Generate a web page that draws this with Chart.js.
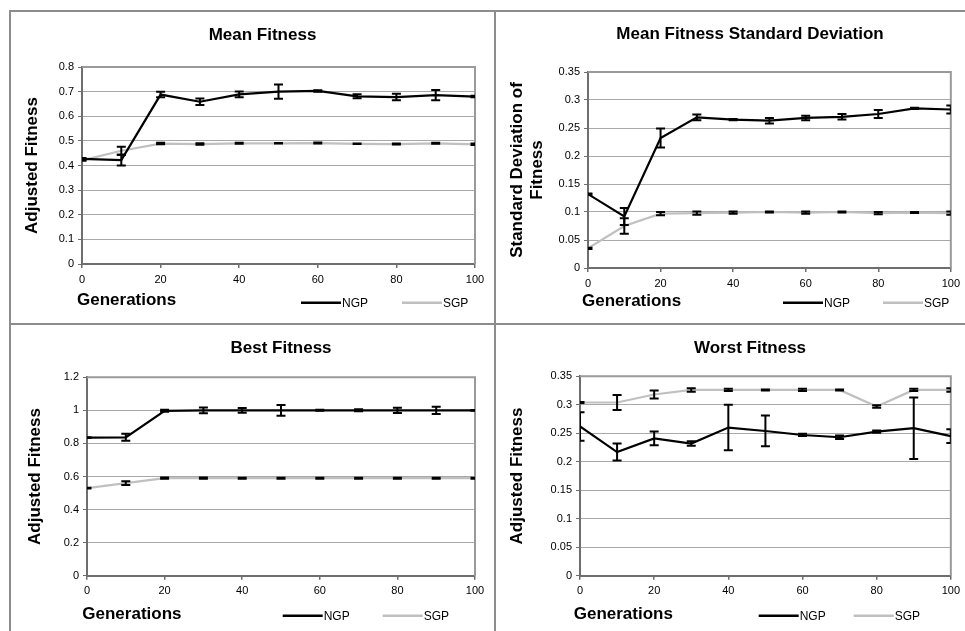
<!DOCTYPE html>
<html>
<head>
<meta charset="utf-8">
<title>NGP vs SGP fitness</title>
<script src="https://cdn.jsdelivr.net/npm/chart.js@4.4.1/dist/chart.umd.min.js"></script>
<style>
  body { margin: 0; background: #fff; }
  #page { position: relative; width: 965px; height: 631px; overflow: hidden; background: #fff; }
  .rule { position: absolute; background: #8c8c8c; }
  canvas { position: absolute; }
</style>
</head>
<body>
<div id="page">
  <div class="rule" style="left:9px;top:10px;width:956px;height:2px"></div>
  <div class="rule" style="left:9px;top:10px;width:2px;height:621px"></div>
  <div class="rule" style="left:494px;top:10px;width:2px;height:621px"></div>
  <div class="rule" style="left:9px;top:323px;width:956px;height:2px"></div>
  <canvas id="meanChart" width="484" height="313" style="left:10px;top:11px"></canvas>
  <canvas id="sdChart" width="470" height="313" style="left:495px;top:11px"></canvas>
  <canvas id="bestChart" width="484" height="306" style="left:10px;top:325px"></canvas>
  <canvas id="worstChart" width="470" height="306" style="left:495px;top:325px"></canvas>
</div>
<script>
// generations on the x axis
const generations = [0, 10, 20, 30, 40, 50, 60, 70, 80, 90, 100];
const xTicks = [0, 20, 40, 60, 80, 100];

// mean fitness
const meanNGP = [0.427, 0.422, 0.688, 0.659, 0.689, 0.700, 0.703, 0.681, 0.678, 0.686, 0.680];
const meanNGPErr = [0.003, 0.022, 0.011, 0.013, 0.012, 0.029, 0.003, 0.008, 0.013, 0.021, 0.003];
const meanSGP = [0.421, 0.460, 0.489, 0.487, 0.490, 0.490, 0.491, 0.488, 0.487, 0.490, 0.486];
const meanSGPErr = [0.002, 0.016, 0.003, 0.003, 0.002, 0.001, 0.002, 0.001, 0.002, 0.002, 0.003];
const meanYTicks = [0, 0.1, 0.2, 0.3, 0.4, 0.5, 0.6, 0.7, 0.8];

// standard deviation of fitness
const sdNGP = [0.132, 0.092, 0.232, 0.269, 0.265, 0.263, 0.268, 0.270, 0.275, 0.285, 0.283];
const sdNGPErr = [0.001, 0.015, 0.017, 0.005, 0.001, 0.005, 0.004, 0.005, 0.007, 0.001, 0.007];
const sdSGP = [0.035, 0.075, 0.097, 0.098, 0.099, 0.100, 0.099, 0.100, 0.098, 0.099, 0.098];
const sdSGPErr = [0.001, 0.014, 0.003, 0.003, 0.002, 0.001, 0.002, 0.001, 0.002, 0.001, 0.003];
const sdYTicks = [0, 0.05, 0.1, 0.15, 0.2, 0.25, 0.3, 0.35];

// best fitness
const bestNGP = [0.835, 0.837, 0.997, 1.0, 1.0, 1.0, 1.0, 1.0, 1.0, 1.0, 1.0];
const bestNGPErr = [0.002, 0.021, 0.006, 0.018, 0.015, 0.032, 0.003, 0.006, 0.016, 0.022, 0.002];
const bestSGP = [0.530, 0.560, 0.590, 0.590, 0.590, 0.590, 0.590, 0.590, 0.590, 0.590, 0.590];
const bestSGPErr = [0.002, 0.012, 0.004, 0.004, 0.003, 0.003, 0.003, 0.003, 0.003, 0.003, 0.003];
const bestYTicks = [0, 0.2, 0.4, 0.6, 0.8, 1, 1.2];

// worst fitness
const worstNGP = [0.262, 0.217, 0.241, 0.232, 0.260, 0.254, 0.247, 0.243, 0.253, 0.259, 0.245];
const worstNGPErr = [0.025, 0.015, 0.012, 0.004, 0.040, 0.027, 0.002, 0.003, 0.002, 0.054, 0.012];
const worstSGP = [0.304, 0.304, 0.318, 0.326, 0.326, 0.326, 0.326, 0.326, 0.297, 0.326, 0.326];
const worstSGPErr = [0.001, 0.013, 0.007, 0.003, 0.002, 0.001, 0.002, 0.001, 0.002, 0.002, 0.003];
const worstYTicks = [0, 0.05, 0.1, 0.15, 0.2, 0.25, 0.3, 0.35];

Chart.defaults.font.family = '"Liberation Sans", Arial, sans-serif';
Chart.defaults.color = '#000';

// error bars: +/- errors[i] around each point, clipped to the plot area
const errorBars = {
    id: 'errorBars',
    afterDatasetsDraw(chart) {
        const { ctx, chartArea, scales } = chart;
        ctx.save();
        ctx.beginPath();
        ctx.rect(chartArea.left, chartArea.top, chartArea.width, chartArea.height);
        ctx.clip();
        ctx.strokeStyle = '#000';
        ctx.lineWidth = 2;
        chart.data.datasets.forEach((ds, i) => {
            const points = chart.getDatasetMeta(i).data;
            ds.errors.forEach((e, j) => {
                const x = points[j].x;
                const top = scales.y.getPixelForValue(ds.data[j].y + e);
                const bottom = scales.y.getPixelForValue(ds.data[j].y - e);
                ctx.beginPath();
                ctx.moveTo(x, top); ctx.lineTo(x, bottom);
                ctx.moveTo(x - 4.5, top); ctx.lineTo(x + 4.5, top);
                ctx.moveTo(x - 4.5, bottom); ctx.lineTo(x + 4.5, bottom);
                ctx.stroke();
            });
        });
        ctx.restore();
    }
};

// top and right edge of the plot frame
const plotFrame = {
    id: 'plotFrame',
    beforeDatasetsDraw(chart) {
        const { ctx, chartArea } = chart;
        ctx.save();
        ctx.strokeStyle = '#9a9a9a';
        ctx.lineWidth = 2;
        ctx.beginPath();
        ctx.moveTo(chartArea.left, chartArea.top);
        ctx.lineTo(chartArea.right, chartArea.top);
        ctx.lineTo(chartArea.right, chartArea.bottom);
        ctx.stroke();
        ctx.restore();
    }
};

// "Generations" label and the series key share one row under the axis
const bottomRow = {
    id: 'bottomRow',
    afterDraw(chart, args, opts) {
        const ctx = chart.ctx;
        ctx.save();
        ctx.textAlign = 'left';
        ctx.textBaseline = 'middle';
        ctx.fillStyle = '#000';
        ctx.font = 'bold 17px "Liberation Sans", Arial, sans-serif';
        ctx.fillText(opts.text, opts.textX, opts.textY);
        ctx.font = '12px "Liberation Sans", Arial, sans-serif';
        chart.data.datasets.forEach((ds, i) => {
            const x = opts.keyX + i * opts.keyStep;
            ctx.strokeStyle = ds.borderColor;
            ctx.lineWidth = 2.5;
            ctx.beginPath();
            ctx.moveTo(x, opts.keyY);
            ctx.lineTo(x + 40, opts.keyY);
            ctx.stroke();
            ctx.fillText(ds.label, x + 41, opts.keyY + 1);
        });
        ctx.restore();
    }
};

function makeSeries(label, values, errors, color) {
    return {
        label: label,
        data: generations.map((g, i) => ({ x: g, y: values[i] })),
        errors: errors,
        borderColor: color,
        backgroundColor: color,
        borderWidth: 2.2,
        pointRadius: 0,
        tension: 0,
        fill: false
    };
}

function makeChart(id, title, yTitle, yTicks, datasets, geo) {
    return new Chart(document.getElementById(id), {
        type: 'line',
        data: { datasets: datasets },
        plugins: [plotFrame, errorBars, bottomRow],
        options: {
            responsive: false,
            animation: false,
            events: [],
            layout: { padding: { left: geo.padL, right: geo.padR, top: 0, bottom: geo.padB } },
            plugins: {
                legend: { display: false },
                tooltip: { enabled: false },
                title: {
                    display: true,
                    text: title,
                    fullSize: geo.fullTitle,
                    color: '#000',
                    font: { size: 17, weight: 'bold' },
                    padding: { top: geo.titlePad[0], bottom: geo.titlePad[1] }
                },
                bottomRow: {
                    text: 'Generations',
                    textX: geo.gen[0], textY: geo.gen[1],
                    keyX: geo.key[0], keyY: geo.key[1], keyStep: geo.keyStep
                }
            },
            scales: {
                x: {
                    type: 'linear',
                    min: xTicks[0],
                    max: xTicks[xTicks.length - 1],
                    afterBuildTicks: s => { s.ticks = xTicks.map(v => ({ value: v })); },
                    border: { color: '#6e6e6e', width: 2 },
                    grid: { drawOnChartArea: false, tickLength: 4, tickColor: '#6e6e6e', lineWidth: 1.5 },
                    ticks: { font: { size: 11 }, padding: 5, maxRotation: 0 }
                },
                y: {
                    min: yTicks[0],
                    max: yTicks[yTicks.length - 1],
                    afterBuildTicks: s => { s.ticks = yTicks.map(v => ({ value: v })); },
                    afterFit: s => { s.width = geo.yWidth; },
                    border: { color: '#6e6e6e', width: 2 },
                    grid: { color: '#a8a8a8', lineWidth: 1, tickLength: 4, tickColor: '#6e6e6e' },
                    ticks: {
                        font: { size: 11 },
                        padding: 4,
                        format: { minimumFractionDigits: 0, maximumFractionDigits: 2 }
                    },
                    title: {
                        display: true,
                        text: yTitle,
                        color: '#000',
                        font: { size: 17, weight: 'bold' },
                        padding: { top: geo.yTitlePad, bottom: 0 }
                    }
                }
            }
        }
    });
}

makeChart('meanChart', 'Mean Fitness', 'Adjusted Fitness', meanYTicks, [
    makeSeries('NGP', meanNGP, meanNGPErr, '#000000'),
    makeSeries('SGP', meanSGP, meanSGPErr, '#c0c0c0')
], { padL: 40, padR: 19, padB: 32.8, fullTitle: true, titlePad: [13.8, 21.8], yWidth: 32, yTitlePad: -28.2,
     gen: [67, 289.5], key: [291, 291.7], keyStep: 101 });

makeChart('sdChart', 'Mean Fitness Standard Deviation', ['Standard Deviation of', 'Fitness'], sdYTicks, [
    makeSeries('NGP', sdNGP, sdNGPErr, '#000000'),
    makeSeries('SGP', sdSGP, sdSGPErr, '#c0c0c0')
], { padL: 52, padR: 12, padB: 28.8, fullTitle: true, titlePad: [13, 27.6], yWidth: 41, yTitlePad: -40.2,
     gen: [87, 290], key: [288, 291.7], keyStep: 100 });

makeChart('bestChart', 'Best Fitness', 'Adjusted Fitness', bestYTicks, [
    makeSeries('NGP', bestNGP, bestNGPErr, '#000000'),
    makeSeries('SGP', bestSGP, bestSGPErr, '#c0c0c0')
], { padL: 0, padR: 19, padB: 28.1, fullTitle: false, titlePad: [13.5, 18.4], yWidth: 77, yTitlePad: 14.8,
     gen: [72.3, 289], key: [272.7, 290.7], keyStep: 100 });

makeChart('worstChart', 'Worst Fitness', 'Adjusted Fitness', worstYTicks, [
    makeSeries('NGP', worstNGP, worstNGPErr, '#000000'),
    makeSeries('SGP', worstSGP, worstSGPErr, '#c0c0c0')
], { padL: 54, padR: 14, padB: 28.1, fullTitle: true, titlePad: [12.8, 18.1], yWidth: 31, yTitlePad: -41.5,
     gen: [78.7, 289], key: [263.7, 290.7], keyStep: 95 });
</script>
</body>
</html>
